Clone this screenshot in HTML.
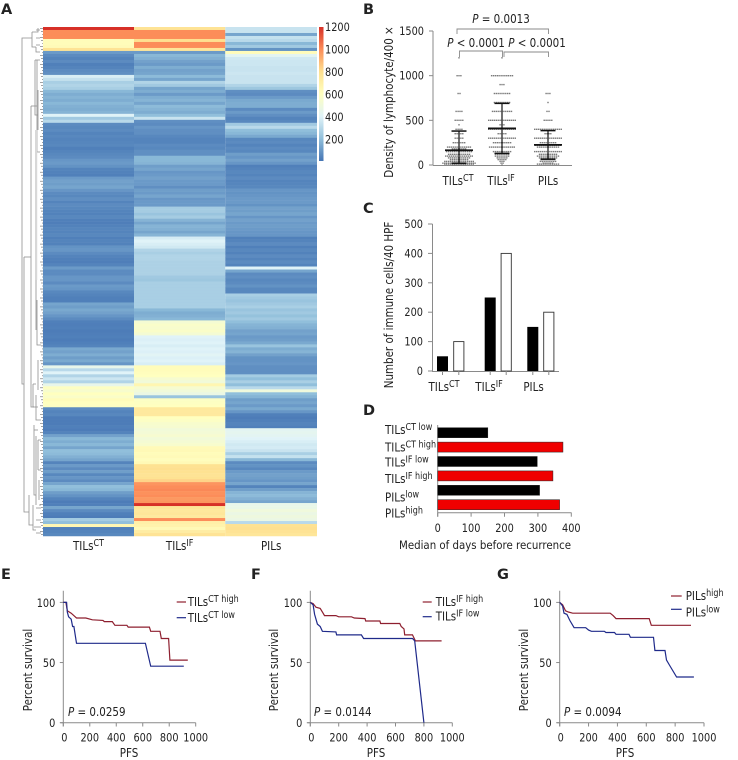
<!DOCTYPE html>
<html lang="en">
<head>
<meta charset="utf-8">
<title>Immune infiltrate figure</title>
<style>
html,body{margin:0;padding:0;background:#fff}
svg{display:block}
text{font-family:"DejaVu Sans","Liberation Sans",sans-serif;fill:#222}
</style>
</head>
<body>
<svg id="fig" xmlns="http://www.w3.org/2000/svg" width="738" height="760" viewBox="0 0 738 760">
<rect width="738" height="760" fill="#fff"/>
<defs>
<linearGradient id="cbar" x1="0" y1="1" x2="0" y2="0">
<stop offset="0" stop-color="#4575b4"/><stop offset="0.1667" stop-color="#91bfdb"/><stop offset="0.3333" stop-color="#e0f3f8"/><stop offset="0.5" stop-color="#ffffbf"/><stop offset="0.6667" stop-color="#fee090"/><stop offset="0.8333" stop-color="#fc8d59"/><stop offset="1" stop-color="#d73027"/>
</linearGradient>
</defs>
<g id="panelA"></g>
<g id="panelB"></g>
<g id="panelC"></g>
<g id="panelD"></g>
<g id="panelE"></g>
<g id="panelF"></g>
<g id="panelG"></g>
</svg>
<script>
// ---------- Panel A data ----------
const heatColumns = ["TILs^CT", "TILs^IF", "PILs"];
const heatCT = [
1200,1000,1000,1000,620,620,630,780,100,60,
40,60,30,40,60,70,380,330,260,280,
260,180,150,170,150,180,160,150,170,400,
240,300,60,50,60,40,50,40,45,50,
30,40,50,60,90,100,80,40,35,30,
100,120,110,130,90,60,50,70,40,60,
50,40,35,50,30,25,35,45,40,50,
30,40,35,80,90,60,40,30,25,40,
100,60,60,90,90,60,100,90,50,40,
30,30,130,110,140,120,90,60,30,25,
30,20,25,30,20,30,40,140,120,150,
110,140,90,450,300,400,280,350,280,450,
590,550,600,570,620,600,590,60,40,50,
20,20,20,30,20,40,120,180,150,180,
130,200,190,160,130,40,100,60,110,50,
90,60,130,200,180,110,80,40,20,30,
130,60,30,20,250,200,650,30,40,50];
const heatIF = [
780,1000,1000,1000,800,1000,1000,760,100,180,
160,120,100,150,120,130,190,130,280,240,
130,150,100,150,170,130,190,170,150,200,
340,70,60,90,70,70,50,40,40,60,
50,70,70,180,180,170,110,130,90,100,
120,100,100,70,110,100,130,90,100,100,
250,250,220,250,170,130,170,160,130,170,
370,400,380,360,280,260,280,280,270,270,
270,270,270,240,230,260,260,260,260,260,
260,260,260,260,180,150,160,180,530,560,
550,570,530,400,390,400,380,400,390,410,
390,400,380,620,620,610,600,540,510,660,
540,510,470,220,580,590,600,750,740,740,
600,580,550,540,510,520,540,510,530,550,
630,640,620,630,610,640,790,800,790,780,
790,830,980,1000,1010,990,1000,970,980,1200,
770,750,760,740,1000,700,680,640,720,780];
const heatPIL = [
340,340,130,330,300,180,240,80,620,420,
360,350,350,340,340,350,340,340,340,280,
230,70,60,100,140,150,150,60,100,70,
40,50,240,300,200,180,140,50,60,40,
60,50,110,90,120,90,30,40,50,40,
60,40,45,50,90,80,90,100,100,80,
120,110,130,90,120,100,110,100,90,90,
30,40,60,30,50,35,60,40,60,40,
400,130,60,70,50,60,80,50,50,260,
240,220,240,260,220,240,210,240,200,170,
160,120,130,100,110,140,220,150,170,120,
80,80,90,70,70,70,250,200,260,200,
300,500,200,170,110,130,100,140,90,30,
20,30,40,30,420,430,420,400,380,360,
370,340,260,330,180,60,80,50,100,120,
110,90,130,40,110,170,190,160,130,450,
460,500,470,490,470,300,790,800,780,760];
const colorbarTicks = [1200,1000,800,600,400,200];

// ---------- Panel B data ----------
const scatterGroups = ["TILs^CT", "TILs^IF", "PILs"];
const scatterTicks = [0,500,1000,1500];
const ctLevels = [1200,1000,800,600,500,450,400,350,300,250,200,180,150,120,100,80,60,40,20,10,0];
const ctCounts = [1,3,2,4,5,1,4,5,5,7,13,8,14,12,15,12,10,16,18,16,8];
const ifLevels = [1200,1000,900,800,700,600,500,450,400,350,300,250,200,150,120,100,80,60,40,20,0];
const ifCounts = [1,12,3,9,9,11,15,3,15,5,15,10,14,10,8,8,6,5,3,2,1];
const pilLevels = [800,700,600,500,400,350,300,250,220,200,150,120,100,80,60,40,20,10];
const pilCounts = [3,1,2,5,15,4,15,9,14,12,15,10,12,10,8,9,6,12];
const scatterMeans = [165,410,225];
const scatterUpper = [380,690,385];
const scatterLower = [20,130,65];
const pValueTop = "P = 0.0013";
const pValueLeft = "P < 0.0001";
const pValueRight = "P < 0.0001";

// ---------- Panel C data ----------
const immuneGroups = ["TILs^CT", "TILs^IF", "PILs"];
const immuneBlack = [50,250,150];
const immuneWhite = [100,400,200];
const immuneTicks = [0,100,200,300,400,500];

// ---------- Panel D data ----------
const daysLabels = ["TILs^CT low","TILs^CT high","TILs^IF low","TILs^IF high","PILs^low","PILs^high"];
const daysValues = [150,375,298,345,305,365];
const daysTicks = [0,100,200,300,400];

// ---------- Survival data ----------
const kmXTicks = [0,200,400,600,800,1000];
const kmYTicks = [0,50,100];
const eHighT = [0,20,30,60,90,100,170,220,300,310,370,390,480,490,650,660,730,740,795,805,940];
const eHighS = [100,100,93,91,88,87,87,85.5,85,84,84,81,81,79.5,79.5,76,76,70,70,52,52];
const eLowT = [0,25,30,40,60,70,80,100,620,660,910];
const eLowS = [100,100,92,88,86,80,80,66,66,47,47];
const fHighT = [0,20,40,70,90,100,180,200,290,310,385,390,490,495,630,640,660,665,720,740,925];
const fHighS = [100,99,96,95,91,89,89,88,88,87,86.5,84.5,84.5,82.5,82.5,80,78,73,73,68,68];
const fLowT = [0,20,30,50,70,85,180,185,360,375,720,735,800];
const fLowS = [100,98,90,82,80,76,75.5,73,73,70,70,68,0];
const gHighT = [0,20,40,60,90,350,370,390,620,635,910];
const gHighS = [100,98,93,92,91,91,89,86.5,86.5,81,81];
const gLowT = [0,20,30,50,70,90,100,180,200,220,310,320,380,390,480,490,650,660,730,740,760,810,930];
const gLowS = [100,97,91,90,85,81,79,79,77,76,76,75,75,73.5,73.5,71,71,60,60,52,48,38,38];

// ---------- Helpers ----------
const NS = "http://www.w3.org/2000/svg";
function mark(parent, tag, name, attrs) {
  const el = document.createElementNS(NS, tag);
  
  
  for (const k in attrs) el.setAttribute(k, attrs[k]);
  parent.appendChild(el);
  return el;
}
function line(parent, name, x1, y1, x2, y2, color, w) {
  return mark(parent, "line", name, {x1:x1, y1:y1, x2:x2, y2:y2, stroke:color, "stroke-width":w});
}
const SX = 0.86;
function label(parent, name, x, y, str, o) {
  o = o || {};
  const size = o.size || 11;
  const el = mark(parent, "text", name, {
    "text-anchor": o.anchor || "start",
    "font-size": size,
    transform: "translate(" + x + "," + y + ")" + (o.rot ? " rotate(" + o.rot + ")" : "") + " scale(" + (o.sx || SX) + ",1)"
  });
  if (o.bold) el.setAttribute("font-weight", "bold");
  let s = str;
  if (s.startsWith("P ")) {
    const p = document.createElementNS(NS, "tspan");
    p.setAttribute("font-style", "italic");
    p.textContent = "P";
    el.appendChild(p);
    s = s.slice(1);
  }
  const parts = s.split("^");
  const base = document.createElementNS(NS, "tspan");
  base.textContent = parts[0];
  el.appendChild(base);
  if (parts[1]) {
    const sup = document.createElementNS(NS, "tspan");
    sup.setAttribute("dy", -4);
    sup.setAttribute("font-size", size * 0.78);
    sup.textContent = parts[1];
    el.appendChild(sup);
  }
  return el;
}
const AXIS = "#8a8a8a";
const TICK = {size:11.6, sx:0.84};

// ---------- Panel A ----------
(function () {
  const g = document.getElementById("panelA");
  label(g, "panel-a-label", 1, 14, "A", {size:14.5, bold:true, sx:1});
  const stops = [[0,[69,117,180]],[200,[145,191,219]],[400,[224,243,248]],[600,[255,255,191]],[800,[254,224,144]],[1000,[252,141,89]],[1200,[215,48,39]]];
  function heatColor(v) {
    for (let i = 1; i < stops.length; i++) {
      if (v <= stops[i][0]) {
        const a = stops[i-1], b = stops[i], t = (v - a[0]) / (b[0] - a[0]);
        return "rgb(" + a[1].map((c, j) => Math.round(c + (b[1][j] - c) * t)).join(",") + ")";
      }
    }
    return "rgb(215,48,39)";
  }
  const colsData = [heatCT, heatIF, heatPIL];
  const colX = [43, 134, 225.3, 317];
  const top = 27, bottom = 536;
  colsData.forEach(function (vals, c) {
    const h = (bottom - top) / vals.length;
    vals.forEach(function (v, i) {
      mark(g, "rect", "heatmap-cell", {x:colX[c], y:(top + i*h).toFixed(2), width:(colX[c+1]-colX[c]).toFixed(1), height:(h+0.25).toFixed(2), fill:heatColor(v)});
    });
    label(g, "heatmap-column-label", (colX[c]+colX[c+1])/2, 550, heatColumns[c], {anchor:"middle", size:12});
  });
  // colour bar
  mark(g, "rect", "colorbar", {x:319, y:27, width:4.5, height:134, fill:"url(#cbar)"});
  colorbarTicks.forEach(function (t) {
    const y = 31 + (1200 - t) * 112.5 / 1000;
    label(g, "colorbar-tick-label", 325, y, String(t), {size:TICK.size, sx:TICK.sx});
  });
  // dendrogram
  const tree = mark(g, "g", "dendrogram", {fill:"none", stroke:"#8f8f8f", "stroke-width":0.8});
  const branches = [
    "M32 38H22V384H24","M24 257V512H29","M24 257H31","M31 106V407H34","M31 106H37","M37 60V152H40",
    "M32 32V47H36","M36 30H40M36 38H40M36 45H40","M32 32H38V28","M36 47V52H40",
    "M35 60H40M35 60V115H38","M38 90V130","M36 130V215","M36 260V330","M37 300V345H41",
    "M33 384H36M33 384V407H38M38 360V390M36 395V420H41","M34 425V495H36","M36 436V470M36 470V505",
    "M38 440H41M38 440V470M39 480V500","M29 495V525H33","M33 505V530H36","M36 508H41M36 520H41","M34 527H41M36 533H41",
    "M38 470H41M39 505H41","M34 430H38"
  ];
  branches.forEach(function (d) { mark(tree, "path", "dendrogram-branch", {d:d}); });
  const n = heatCT.length, rowH = (bottom - top) / n;
  for (let i = 0; i < n; i++) {
    const y = top + i*rowH + rowH/2;
    const x0 = 40 + (i % 3);
    mark(tree, "path", "dendrogram-leaf", {d:"M" + x0 + " " + y.toFixed(1) + "H43", stroke:"#666", "stroke-width":0.6});
  }
  mark(g, "rect", "dendrogram-density", {x:35, y:130, width:2.2, height:150, fill:"#d8d8d8"});
})();

// ---------- Panel B ----------
(function () {
  const g = document.getElementById("panelB");
  label(g, "panel-b-label", 363, 14, "B", {size:14.5, bold:true, sx:1});
  const y = function (v) { return 165 - v * 134 / 1500; };
  const cx = [459, 502, 548];
  line(g, "y-axis", 433, y(1500), 433, 165.5, AXIS, 1);
  line(g, "x-axis", 433, 165.5, 572, 165.5, AXIS, 1);
  scatterTicks.forEach(function (t) {
    line(g, "y-tick", 429, y(t), 433, y(t), AXIS, 1);
    label(g, "y-tick-label", 424, y(t) + 4, String(t), {anchor:"end", size:TICK.size, sx:TICK.sx});
  });
  label(g, "y-axis-title", 393, 102, "Density of lymphocyte/400 ×", {anchor:"middle", rot:-90, size:12});
  const levels = [ctLevels, ifLevels, pilLevels];
  const counts = [ctCounts, ifCounts, pilCounts];
  levels.forEach(function (lv, c) {
    lv.forEach(function (v, i) {
      const m = counts[c][i];
      for (let j = 0; j < m; j++) {
        mark(g, "rect", "scatter-point", {x:(cx[c] + (j - (m-1)/2)*1.9 - 0.7).toFixed(1), y:(y(v) - 0.7).toFixed(1), width:1.4, height:1.4, fill:"#7a7a7a"});
      }
    });
    line(g, "error-bar-stem", cx[c], y(scatterUpper[c]), cx[c], y(scatterLower[c]), "#111", 1.2);
    line(g, "error-bar-upper-cap", cx[c]-7.5, y(scatterUpper[c]), cx[c]+7.5, y(scatterUpper[c]), "#111", 1.5);
    line(g, "error-bar-lower-cap", cx[c]-7.5, y(scatterLower[c]), cx[c]+7.5, y(scatterLower[c]), "#111", 1.5);
    line(g, "mean-line", cx[c]-14, y(scatterMeans[c]), cx[c]+14, y(scatterMeans[c]), "#111", 1.8);
    label(g, "x-tick-label", [458,501,548][c], 185, scatterGroups[c], {anchor:"middle", size:12});
  });
  mark(g, "path", "significance-bracket-top", {d:"M457 34V29H548.5V34", fill:"none", stroke:AXIS, "stroke-width":0.9});
  mark(g, "path", "significance-bracket-left", {d:"M459.5 57V51H502.5V57", fill:"none", stroke:AXIS, "stroke-width":0.9});
  mark(g, "path", "significance-bracket-right", {d:"M504 57V52H548.5V57", fill:"none", stroke:AXIS, "stroke-width":0.9});
  label(g, "p-value-top", 501, 23, pValueTop, {anchor:"middle", size:12});
  label(g, "p-value-left", 476, 47, pValueLeft, {anchor:"middle", size:12});
  label(g, "p-value-right", 537, 47, pValueRight, {anchor:"middle", size:12});
})();

// ---------- Panel C ----------
(function () {
  const g = document.getElementById("panelC");
  label(g, "panel-c-label", 363, 213, "C", {size:14.5, bold:true, sx:1});
  const base = 371;
  const y = function (v) { return base - v * 147 / 500; };
  line(g, "y-axis", 432.5, y(500), 432.5, base + 0.5, AXIS, 1);
  line(g, "x-axis", 432, base + 0.5, 559, base + 0.5, AXIS, 1);
  immuneTicks.forEach(function (t) {
    line(g, "y-tick", 428, y(t), 432.5, y(t), AXIS, 1);
    label(g, "y-tick-label", 423, y(t) + 4, String(t), {anchor:"end", size:TICK.size, sx:TICK.sx});
  });
  label(g, "y-axis-title", 393, 305, "Number of immune cells/40 HPF", {anchor:"middle", rot:-90, size:12});
  const bx = [437, 484.7, 527.3], wx = [453.3, 500.7, 543.3];
  const lx = [444, 489, 533.5];
  immuneGroups.forEach(function (name, i) {
    mark(g, "rect", "bar-black", {x:bx[i], y:y(immuneBlack[i]), width:11, height:base - y(immuneBlack[i]), fill:"#000"});
    mark(g, "rect", "bar-white", {x:wx[i]+0.4, y:y(immuneWhite[i]), width:10.2, height:base - y(immuneWhite[i]), fill:"#fff", stroke:"#333", "stroke-width":0.9});
    line(g, "x-tick", bx[i]+5.5, base, bx[i]+5.5, base+4, AXIS, 1);
    line(g, "x-tick", wx[i]+5.5, base, wx[i]+5.5, base+4, AXIS, 1);
    label(g, "x-tick-label", lx[i], 391, name, {anchor:"middle", size:12});
  });
})();

// ---------- Panel D ----------
(function () {
  const g = document.getElementById("panelD");
  label(g, "panel-d-label", 363, 415, "D", {size:14.5, bold:true, sx:1});
  const x = function (v) { return 437.7 + v * 133.6 / 400; };
  const axisY = 512.7;
  line(g, "y-axis", 437.7, 425, 437.7, axisY + 4, AXIS, 1);
  line(g, "x-axis", 437.7, axisY, 571.5, axisY, AXIS, 1);
  const labelBase = [434, 451.5, 466.5, 483, 501.5, 517.5];
  const colors = ["#000", "#f00000"];
  daysValues.forEach(function (v, i) {
    const yc = 432.7 + i * 14.4;
    mark(g, "rect", "recurrence-bar", {x:437.7, y:yc - 5, width:x(v) - 437.7, height:10, fill:colors[i % 2], stroke:"#222", "stroke-width":0.5});
    label(g, "recurrence-bar-label", 385, labelBase[i], daysLabels[i], {size:12});
  });
  daysTicks.forEach(function (t) {
    line(g, "x-tick", x(t), axisY, x(t), axisY + 4, AXIS, 1);
    label(g, "x-tick-label", x(t), 532, String(t), {anchor:"middle", size:TICK.size, sx:TICK.sx});
  });
  label(g, "x-axis-title", 485, 549, "Median of days before recurrence", {anchor:"middle", size:11.9});
})();

// ---------- Panels E, F, G ----------
function survival(cfg) {
  const g = document.getElementById(cfg.id);
  label(g, "panel-label", cfg.letterX, 579, cfg.letter, {size:14.5, bold:true, sx:1});
  const x = function (t) { return cfg.x0 + t * cfg.xSpan / 1000; };
  const y = function (s) { return 722.7 - s * 1.203; };
  line(g, "y-axis", cfg.x0, 590.7, cfg.x0, 726.5, AXIS, 1);
  line(g, "x-axis", cfg.x0 - 3, 722.7, x(1000), 722.7, AXIS, 1);
  kmYTicks.forEach(function (t) {
    line(g, "y-tick", cfg.x0 - 3.5, y(t), cfg.x0, y(t), AXIS, 1);
    label(g, "y-tick-label", cfg.x0 - 8, y(t) + 4.5, String(t), {anchor:"end", size:TICK.size, sx:TICK.sx});
  });
  kmXTicks.forEach(function (t) {
    line(g, "x-tick", x(t), 722.7, x(t), 726.5, AXIS, 1);
    label(g, "x-tick-label", x(t) + (t === 0 ? 1 : 0), 741.7, String(t), {anchor:"middle", size:TICK.size, sx:TICK.sx});
  });
  label(g, "y-axis-title", cfg.titleX, 670, "Percent survival", {anchor:"middle", rot:-90, size:12});
  label(g, "x-axis-title", cfg.pfsX, 757, "PFS", {anchor:"middle", size:12});
  label(g, "p-value", cfg.pX, 716, cfg.p, {size:12});
  function curve(name, ts, ss, color) {
    const pts = ts.map(function (t, i) { return x(t).toFixed(1) + "," + y(ss[i]).toFixed(1); }).join(" ");
    mark(g, "polyline", name, {points:pts, fill:"none", stroke:color, "stroke-width":1.2});
  }
  curve("survival-curve-high", cfg.highT, cfg.highS, "#8e1f2f");
  curve("survival-curve-low", cfg.lowT, cfg.lowS, "#1f2a8a");
  line(g, "legend-line-high", cfg.lg[0], cfg.lg[2], cfg.lg[1], cfg.lg[2], "#8e1f2f", 1.2);
  line(g, "legend-line-low", cfg.lg[0], cfg.lg[3], cfg.lg[1], cfg.lg[3], "#1f2a8a", 1.2);
  label(g, "legend-entry-high", cfg.lg[1] + cfg.lgGap, cfg.lg[2] + 4, cfg.hiLabel, {size:12});
  label(g, "legend-entry-low", cfg.lg[1] + cfg.lgGap, cfg.lg[4], cfg.loLabel, {size:12});
}
survival({id:"panelE", letter:"E", letterX:1, x0:63.3, xSpan:132.4, titleX:32, pfsX:129, pX:68, p:"P = 0.0259",
  highT:eHighT, highS:eHighS, lowT:eLowT, lowS:eLowS, lg:[176.7,186,602,617.7,622], lgGap:1.7,
  hiLabel:"TILs^CT high", loLabel:"TILs^CT low"});
survival({id:"panelF", letter:"F", letterX:251, x0:310.3, xSpan:142, titleX:278, pfsX:376, pX:314, p:"P = 0.0144",
  highT:fHighT, highS:fHighS, lowT:fLowT, lowS:fLowS, lg:[422.7,431.7,602,616.7,620.5], lgGap:4,
  hiLabel:"TILs^IF high", loLabel:"TILs^IF low"});
survival({id:"panelG", letter:"G", letterX:497, x0:559.7, xSpan:144.3, titleX:528, pfsX:625, pX:564, p:"P = 0.0094",
  highT:gHighT, highS:gHighS, lowT:gLowT, lowS:gLowS, lg:[671,681.7,596,609.3,616.7], lgGap:4,
  hiLabel:"PILs^high", loLabel:"PILs^low"});
</script>
</body>
</html>
